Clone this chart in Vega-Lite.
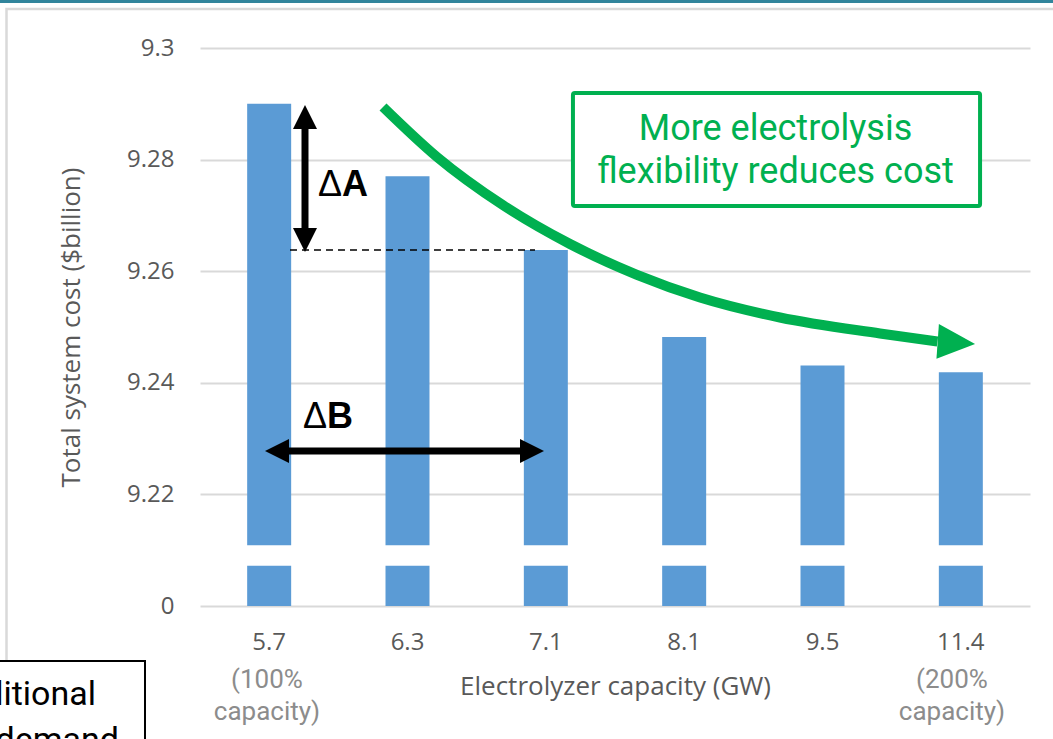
{
  "$schema": "https://vega.github.io/schema/vega-lite/v6.json",
  "width": 830,
  "height": 558,
  "autosize": {"type": "none"},
  "padding": {"left": 200, "top": 48, "right": 23, "bottom": 133},
  "background": "white",
  "config": {"view": {"stroke": null}, "font": "Open Sans"},
  "datasets": {
    "costs": [
      {"capacity": "5.7", "cost": 9.290},
      {"capacity": "6.3", "cost": 9.277},
      {"capacity": "7.1", "cost": 9.2638},
      {"capacity": "8.1", "cost": 9.2482},
      {"capacity": "9.5", "cost": 9.2431},
      {"capacity": "11.4", "cost": 9.2419}
    ],
    "trend": [
      {"pos": 1.3229, "cost": 9.28943},
      {"pos": 1.7133, "cost": 9.28047},
      {"pos": 2.1904, "cost": 9.27183},
      {"pos": 2.6747, "cost": 9.26487},
      {"pos": 3.159, "cost": 9.25935},
      {"pos": 3.6145, "cost": 9.25529},
      {"pos": 4.1928, "cost": 9.2517},
      {"pos": 4.9157, "cost": 9.24884},
      {"pos": 5.3313, "cost": 9.2474}
    ],
    "one": [{}]
  },
  "layer": [
    {
      "data": {"name": "costs"},
      "encoding": {
        "x": {
          "field": "capacity",
          "type": "ordinal",
          "sort": null,
          "scale": {"paddingInner": 0.682, "paddingOuter": 0.341},
          "axis": {
            "title": "Electrolyzer capacity (GW)",
            "labelAngle": 0,
            "domain": false,
            "ticks": false,
            "grid": false,
            "labelFont": "Open Sans",
            "labelFontSize": 24,
            "labelColor": "#595959",
            "labelPadding": 24,
            "titleFont": "Open Sans",
            "titleFontSize": 26,
            "titleFontWeight": "normal",
            "titleColor": "#595959",
            "titlePadding": 19
          }
        }
      },
      "layer": [
        {
          "mark": {"type": "bar", "color": "#5b9bd5"},
          "encoding": {
            "y": {
              "field": "cost",
              "type": "quantitative",
              "scale": {"domain": [9.2, 9.3], "nice": false, "zero": false},
              "axis": {
                "title": "Total system cost ($billion)",
                "values": [9.2, 9.22, 9.24, 9.26, 9.28, 9.3],
                "format": ".3~r",
                "labelExpr": "datum.value < 9.21 ? '0' : datum.label",
                "domain": false,
                "ticks": false,
                "gridColor": "#d9d9d9",
                "gridWidth": 2,
                "labelFont": "Open Sans",
                "labelFontSize": 24,
                "labelColor": "#595959",
                "labelPadding": 26,
                "titleFont": "Open Sans",
                "titleFontSize": 26,
                "titleFontWeight": "normal",
                "titleColor": "#595959",
                "titlePadding": 42
              }
            },
            "y2": {"datum": 9.2109}
          }
        },
        {
          "mark": {"type": "bar", "color": "#5b9bd5"},
          "encoding": {
            "y": {"datum": 9.2072},
            "y2": {"datum": 9.2}
          }
        }
      ]
    },
    {
      "data": {"name": "one"},
      "layer": [
        {
          "mark": {"type": "rect", "filled": false, "stroke": "#d9d9d9", "strokeWidth": 2.5},
          "encoding": {
            "x": {"datum": -1.3988, "type": "quantitative", "scale": {"domain": [0, 6], "nice": false, "zero": false}, "axis": null},
            "x2": {"datum": 7},
            "y": {"datum": 9.30699},
            "y2": {"datum": 9.17}
          }
        },
        {
          "mark": {"type": "rect", "color": "#31859c"},
          "encoding": {
            "x": {"datum": -1.6, "type": "quantitative", "scale": {"domain": [0, 6]}, "axis": null},
            "x2": {"datum": 7},
            "y": {"datum": 9.312},
            "y2": {"datum": 9.30806}
          }
        },
        {
          "mark": {"type": "rect", "fill": "white", "stroke": "black", "strokeWidth": 2},
          "encoding": {
            "x": {"datum": -1.6, "type": "quantitative", "scale": {"domain": [0, 6]}, "axis": null},
            "x2": {"datum": -0.3976},
            "y": {"datum": 9.19014},
            "y2": {"datum": 9.17}
          }
        },
        {
          "mark": {"type": "text", "font": "Roboto", "fontSize": 34, "color": "black", "align": "right", "baseline": "alphabetic"},
          "encoding": {
            "x": {"datum": -0.7518, "type": "quantitative", "scale": {"domain": [0, 6]}, "axis": null},
            "y": {"datum": 9.18226},
            "text": {"value": "Additional"}
          }
        },
        {
          "mark": {"type": "text", "font": "Roboto", "fontSize": 34, "color": "black", "align": "right", "baseline": "alphabetic"},
          "encoding": {
            "x": {"datum": -0.5856, "type": "quantitative", "scale": {"domain": [0, 6]}, "axis": null},
            "y": {"datum": 9.17401},
            "text": {"value": "demand"}
          }
        },
        {
          "mark": {"type": "rule", "color": "black", "strokeWidth": 1.5, "strokeDash": [7, 5]},
          "encoding": {
            "x": {"datum": 0.6506, "type": "quantitative", "scale": {"domain": [0, 6]}, "axis": null},
            "x2": {"datum": 2.4217},
            "y": {"datum": 9.2638}
          }
        },
        {
          "mark": {"type": "rule", "color": "black", "strokeWidth": 7},
          "encoding": {
            "x": {"datum": 0.759, "type": "quantitative", "scale": {"domain": [0, 6]}, "axis": null},
            "y": {"datum": 9.28566},
            "y2": {"datum": 9.26756}
          }
        },
        {
          "mark": {"type": "point", "shape": "M0,0L-1,2L1,2Z", "size": 576, "filled": true, "color": "black", "opacity": 1, "strokeWidth": 0},
          "encoding": {
            "x": {"datum": 0.759, "type": "quantitative", "scale": {"domain": [0, 6]}, "axis": null},
            "y": {"datum": 9.28978}
          }
        },
        {
          "mark": {"type": "point", "shape": "M0,0L-1,-2L1,-2Z", "size": 576, "filled": true, "color": "black", "opacity": 1, "strokeWidth": 0},
          "encoding": {
            "x": {"datum": 0.759, "type": "quantitative", "scale": {"domain": [0, 6]}, "axis": null},
            "y": {"datum": 9.26344}
          }
        },
        {
          "mark": {"type": "rule", "color": "black", "strokeWidth": 7},
          "encoding": {
            "x": {"datum": 0.6362, "type": "quantitative", "scale": {"domain": [0, 6]}, "axis": null},
            "x2": {"datum": 2.3205},
            "y": {"datum": 9.22778}
          }
        },
        {
          "mark": {"type": "point", "shape": "M0,0L2,-1L2,1Z", "size": 576, "filled": true, "color": "black", "opacity": 1, "strokeWidth": 0},
          "encoding": {
            "x": {"datum": 0.4699, "type": "quantitative", "scale": {"domain": [0, 6]}, "axis": null},
            "y": {"datum": 9.22778}
          }
        },
        {
          "mark": {"type": "point", "shape": "M0,0L-2,-1L-2,1Z", "size": 576, "filled": true, "color": "black", "opacity": 1, "strokeWidth": 0},
          "encoding": {
            "x": {"datum": 2.4868, "type": "quantitative", "scale": {"domain": [0, 6]}, "axis": null},
            "y": {"datum": 9.22778}
          }
        },
        {
          "mark": {"type": "text", "font": "Liberation Sans", "fontSize": 36, "fontWeight": "normal", "color": "black", "align": "right", "baseline": "alphabetic"},
          "encoding": {
            "x": {"datum": 1.0265, "type": "quantitative", "scale": {"domain": [0, 6]}, "axis": null},
            "y": {"datum": 9.27348},
            "text": {"value": "Δ"}
          }
        },
        {
          "mark": {"type": "text", "font": "Liberation Sans", "fontSize": 36, "fontWeight": "bold", "color": "black", "align": "left", "baseline": "alphabetic"},
          "encoding": {
            "x": {"datum": 1.0265, "type": "quantitative", "scale": {"domain": [0, 6]}, "axis": null},
            "y": {"datum": 9.27348},
            "text": {"value": "A"}
          }
        },
        {
          "mark": {"type": "text", "font": "Liberation Sans", "fontSize": 36, "fontWeight": "normal", "color": "black", "align": "right", "baseline": "alphabetic"},
          "encoding": {
            "x": {"datum": 0.918, "type": "quantitative", "scale": {"domain": [0, 6]}, "axis": null},
            "y": {"datum": 9.2319},
            "text": {"value": "Δ"}
          }
        },
        {
          "mark": {"type": "text", "font": "Liberation Sans", "fontSize": 36, "fontWeight": "bold", "color": "black", "align": "left", "baseline": "alphabetic"},
          "encoding": {
            "x": {"datum": 0.918, "type": "quantitative", "scale": {"domain": [0, 6]}, "axis": null},
            "y": {"datum": 9.2319},
            "text": {"value": "B"}
          }
        },
        {
          "data": {"name": "trend"},
          "mark": {"type": "line", "color": "#00b050", "strokeWidth": 10, "strokeCap": "butt", "interpolate": "monotone"},
          "encoding": {
            "x": {"field": "pos", "type": "quantitative", "scale": {"domain": [0, 6]}, "axis": null},
            "y": {"field": "cost", "type": "quantitative"}
          }
        },
        {
          "mark": {"type": "point", "shape": "M0,0L-2,-0.93L-2,0.93Z", "size": 1406, "angle": 4, "filled": true, "color": "#00b050", "opacity": 1, "strokeWidth": 0},
          "encoding": {
            "x": {"datum": 5.603, "type": "quantitative", "scale": {"domain": [0, 6]}, "axis": null},
            "y": {"datum": 9.24695}
          }
        },
        {
          "mark": {"type": "rect", "fill": "white", "stroke": "#00b050", "strokeWidth": 4, "cornerRadius": 2},
          "encoding": {
            "x": {"datum": 2.696, "type": "quantitative", "scale": {"domain": [0, 6]}, "axis": null},
            "x2": {"datum": 5.639},
            "y": {"datum": 9.29194},
            "y2": {"datum": 9.27168}
          }
        },
        {
          "mark": {"type": "text", "font": "Roboto", "fontSize": 36, "color": "#00b050", "align": "center", "baseline": "alphabetic", "lineBreak": "\n", "lineHeight": 43},
          "encoding": {
            "x": {"datum": 4.16, "type": "quantitative", "scale": {"domain": [0, 6]}, "axis": null},
            "y": {"datum": 9.28351},
            "text": {"value": "More electrolysis\nflexibility reduces cost"}
          }
        },
        {
          "mark": {"type": "text", "font": "Roboto", "fontSize": 26, "color": "#8c8c8c", "align": "center", "baseline": "alphabetic", "lineBreak": "\n", "lineHeight": 32},
          "encoding": {
            "x": {"datum": 0.484, "type": "quantitative", "scale": {"domain": [0, 6]}, "axis": null},
            "y": {"datum": 9.1853},
            "text": {"value": "(100%\ncapacity)"}
          }
        },
        {
          "mark": {"type": "text", "font": "Roboto", "fontSize": 26, "color": "#8c8c8c", "align": "center", "baseline": "alphabetic", "lineBreak": "\n", "lineHeight": 32},
          "encoding": {
            "x": {"datum": 5.436, "type": "quantitative", "scale": {"domain": [0, 6]}, "axis": null},
            "y": {"datum": 9.1853},
            "text": {"value": "(200%\ncapacity)"}
          }
        }
      ]
    }
  ],
  "resolve": {"scale": {"x": "independent"}}
}
